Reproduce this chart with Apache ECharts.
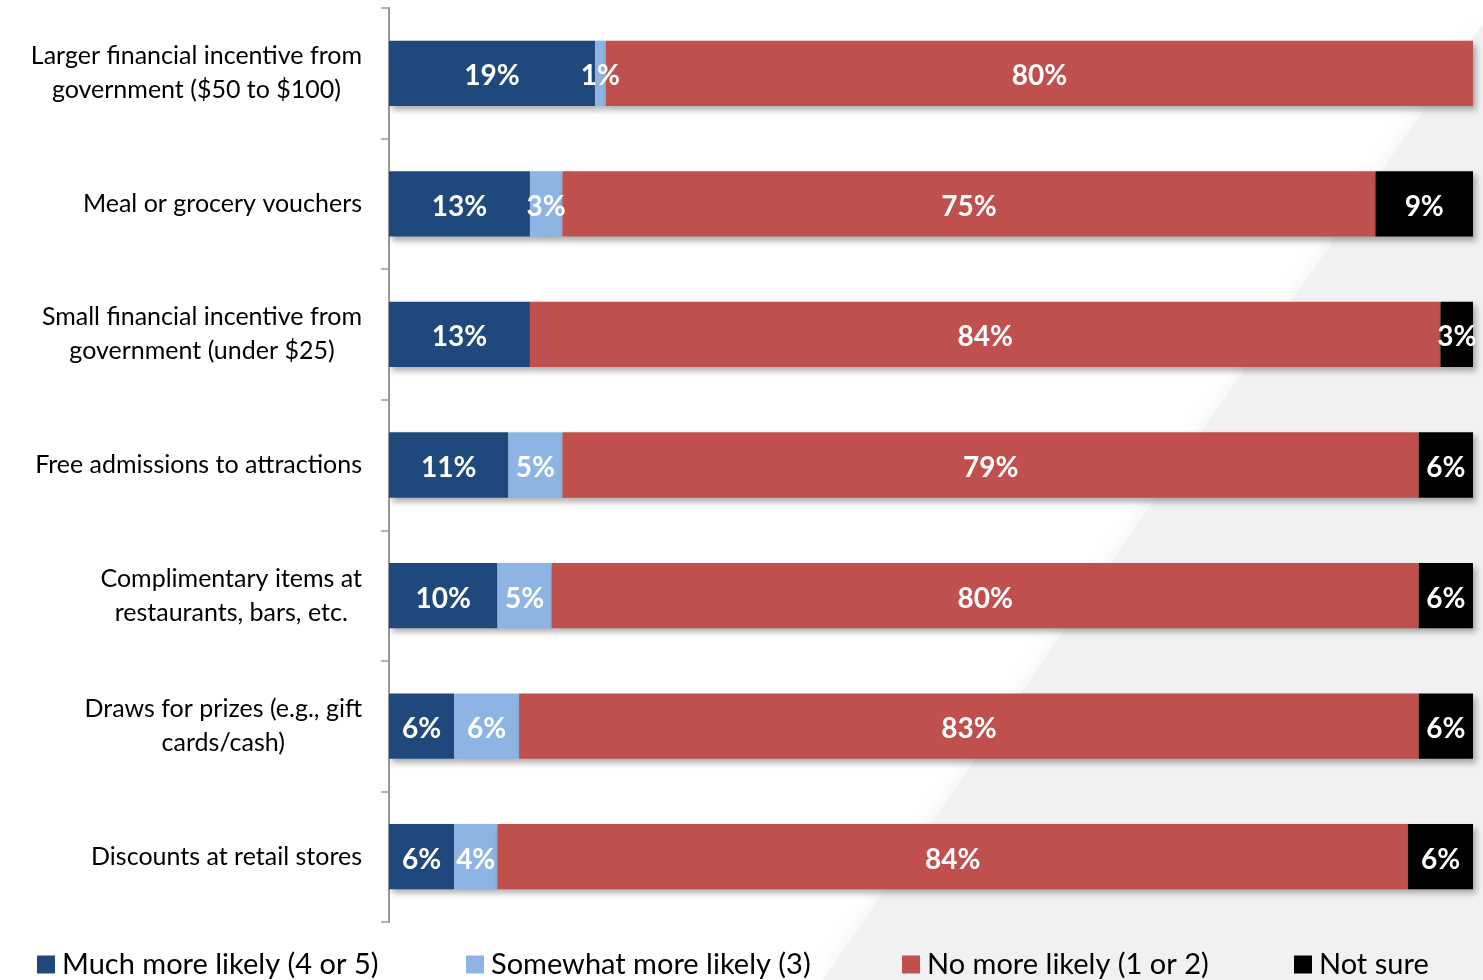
<!DOCTYPE html>
<html>
<head>
<meta charset="utf-8">
<title>Incentives</title>
<script src="https://cdn.jsdelivr.net/npm/echarts@6/dist/echarts.min.js"></script>
<style>
  html, body { margin: 0; padding: 0; background: #ffffff; }
  #chart { width: 1483px; height: 980px; }
</style>
</head>
<body>
<div id="chart"></div>
<script>
// Survey options, top to bottom
const categories = [
  'Larger financial incentive from\ngovernment ($50 to $100)',
  'Meal or grocery vouchers',
  'Small financial incentive from\ngovernment (under $25)',
  'Free admissions to attractions',
  'Complimentary items at\nrestaurants, bars, etc.',
  'Draws for prizes (e.g., gift\ncards/cash)',
  'Discounts at retail stores'
];

// Share of respondents (%) per response
const muchMoreLikely     = [19, 13, 13, 11, 10, 6, 6];
const somewhatMoreLikely = [1, 3, 0, 5, 5, 6, 4];
const noMoreLikely       = [80, 75, 84, 79, 80, 83, 84];
const notSure            = [0, 9, 3, 6, 6, 6, 6];

const seriesNames = [
  'Much more likely (4 or 5)',
  'Somewhat more likely (3)',
  'No more likely (1 or 2)',
  'Not sure'
];
const seriesColors = ['#1F497D', '#8DB4E2', '#C0504D', '#000000'];
const seriesValues = [muchMoreLikely, somewhatMoreLikely, noMoreLikely, notSure];

const FONT = 'Lato, "Open Sans", sans-serif';

const chart = echarts.init(document.getElementById('chart'));

const series = seriesValues.map((vals, i) => ({
  name: seriesNames[i],
  type: 'bar',
  stack: 'total',
  barWidth: '50%',
  data: vals,
  itemStyle: {
    color: seriesColors[i],
    shadowBlur: 6,
    shadowOffsetX: 3,
    shadowOffsetY: 4,
    shadowColor: 'rgba(0,0,0,0.32)'
  },
  label: {
    show: true,
    position: 'inside',
    offset: [0, 3],
    color: '#ffffff',
    fontFamily: FONT,
    fontWeight: 'bold',
    fontSize: 28,
    formatter: p => (p.value ? p.value + '%' : '')
  },
  emphasis: { disabled: true }
}));

// Legend entries placed individually along the bottom edge
const legendLefts = [37, 466, 902, 1294];
const legends = seriesNames.map((name, i) => ({
  data: [name],
  left: legendLefts[i],
  top: 950,
  padding: 0,
  icon: 'rect',
  itemWidth: 18,
  itemHeight: 18,
  textStyle: { fontFamily: FONT, fontSize: 29, color: '#000000', padding: [0, 0, 0, 2] },
  selectedMode: false
}));

chart.setOption({
  backgroundColor: '#ffffff',
  animation: false,
  graphic: [{
    // soft light-grey wedge in the lower right
    type: 'polygon',
    z: -10,
    silent: true,
    shape: { points: [[1483, 24], [1483, 980], [823, 980]] },
    style: { fill: '#f1f1f1', shadowBlur: 24, shadowColor: 'rgba(241,241,241,1)' }
  }],
  legend: legends,
  grid: { left: 389, right: 10, top: 8, bottom: 58, containLabel: false },
  xAxis: {
    type: 'value',
    min: 0,
    max: 100,
    show: false
  },
  yAxis: {
    type: 'category',
    inverse: true,
    data: categories,
    axisLine: { show: true, lineStyle: { color: '#999999', width: 2 } },
    axisTick: { show: true, length: 8, lineStyle: { color: '#999999', width: 1.5 } },
    splitLine: { show: false },
    axisLabel: {
      margin: 27,
      align: 'right',
      lineHeight: 34,
      formatter: v => v.split('\n').map(line => '{c|' + line + '}').join('\n'),
      rich: {
        c: { align: 'center', fontFamily: FONT, fontSize: 25, color: '#000000', lineHeight: 34 }
      }
    }
  },
  series: series
});
</script>
</body>
</html>
